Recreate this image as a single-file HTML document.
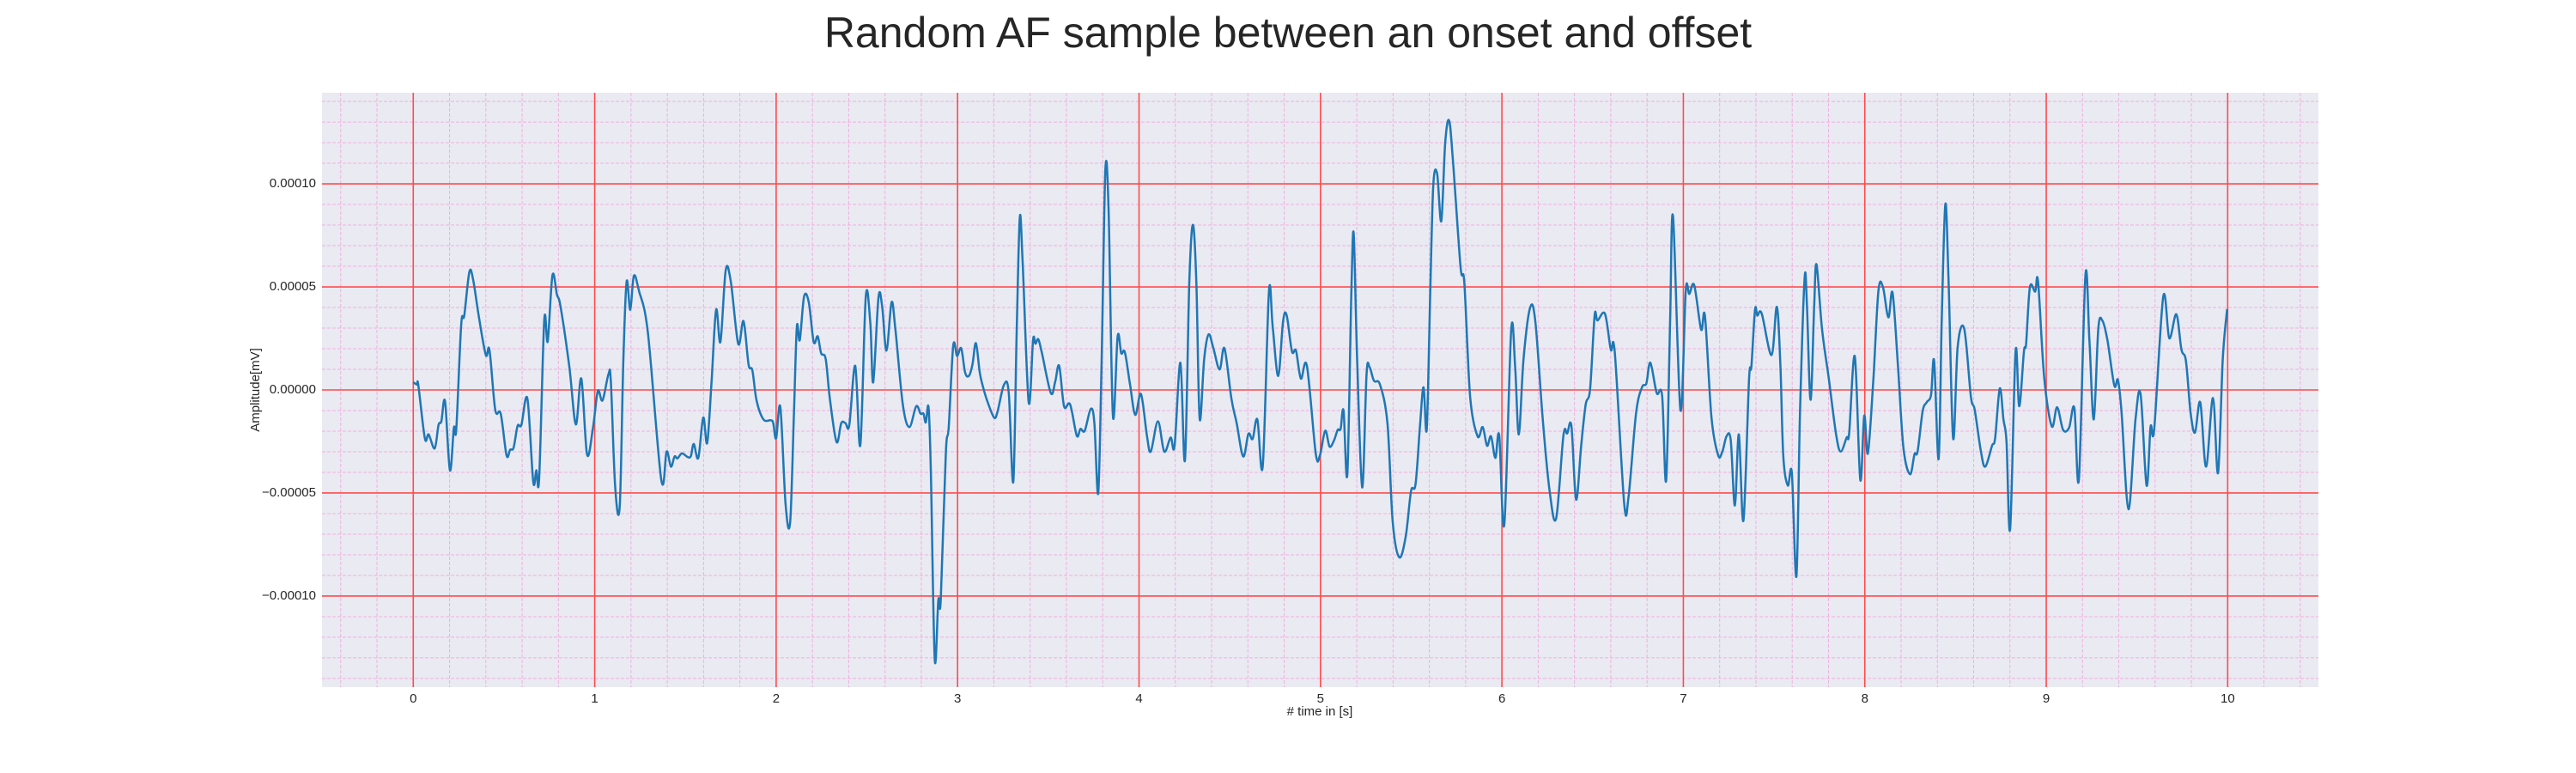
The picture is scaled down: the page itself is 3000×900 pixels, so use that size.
<!DOCTYPE html>
<html><head><meta charset="utf-8"><style>
html,body{margin:0;padding:0;background:#fff;}
svg{display:block;font-family:"Liberation Sans",sans-serif;}
</style></head><body>
<svg id="chart" width="3000" height="900" xmlns="http://www.w3.org/2000/svg">
<text x="1500" y="42" text-anchor="middle" dominant-baseline="middle" font-size="50" fill="#262626">Random AF sample between an onset and offset</text>
<rect x="375" y="108" width="2325" height="692" fill="#eaeaf2"/>
<g id="grid"></g>
<g id="ticks"></g>
<g id="series"></g>
<text x="1537" y="829" text-anchor="middle" dominant-baseline="middle" font-size="15" fill="#262626"># time in [s]</text>
<text transform="translate(298,454) rotate(-90)" text-anchor="middle" dominant-baseline="middle" font-size="15" fill="#262626">Amplitude[mV]</text>
</svg>
<script>
const times = [0,0.02,0.028,0.064,0.085,0.118,0.139,0.155,0.175,0.202,0.224,0.237,0.264,0.281,0.309,0.33,0.362,0.4,0.42,0.452,0.482,0.514,0.534,0.553,0.575,0.596,0.629,0.661,0.678,0.694,0.722,0.741,0.767,0.792,0.811,0.86,0.896,0.926,0.958,0.991,1.017,1.043,1.076,1.089,1.113,1.138,1.158,1.176,1.196,1.216,1.244,1.293,1.367,1.396,1.42,1.44,1.456,1.481,1.513,1.53,1.546,1.571,1.598,1.62,1.644,1.669,1.693,1.722,1.75,1.791,1.82,1.848,1.869,1.892,1.93,1.97,1.984,2.0,2.023,2.052,2.077,2.098,2.114,2.13,2.154,2.18,2.207,2.229,2.248,2.273,2.297,2.333,2.359,2.382,2.403,2.436,2.464,2.494,2.519,2.535,2.564,2.584,2.608,2.636,2.657,2.698,2.734,2.772,2.796,2.812,2.825,2.84,2.853,2.874,2.894,2.907,2.935,2.951,2.976,2.997,3.02,3.041,3.062,3.082,3.101,3.122,3.139,3.166,3.201,3.22,3.256,3.282,3.307,3.326,3.343,3.359,3.392,3.416,3.429,3.445,3.465,3.514,3.538,3.56,3.587,3.62,3.657,3.677,3.701,3.734,3.754,3.775,3.794,3.814,3.832,3.856,3.882,3.902,3.922,3.951,3.979,4.011,4.044,4.065,4.104,4.139,4.174,4.196,4.228,4.253,4.277,4.297,4.316,4.334,4.359,4.383,4.408,4.444,4.471,4.509,4.538,4.574,4.603,4.626,4.652,4.682,4.716,4.737,4.767,4.794,4.814,4.843,4.865,4.892,4.925,4.974,4.997,5.026,5.05,5.075,5.095,5.111,5.127,5.148,5.17,5.183,5.202,5.23,5.254,5.271,5.295,5.328,5.369,5.398,5.434,5.47,5.499,5.524,5.548,5.568,5.586,5.605,5.622,5.643,5.666,5.687,5.708,5.728,5.772,5.793,5.825,5.866,5.894,5.918,5.94,5.964,5.985,6.013,6.051,6.073,6.093,6.119,6.155,6.184,6.225,6.263,6.299,6.339,6.36,6.383,6.409,6.437,6.462,6.486,6.511,6.527,6.568,6.6,6.622,6.674,6.698,6.739,6.772,6.796,6.818,6.853,6.883,6.905,6.927,6.943,6.984,7.013,7.033,7.06,7.098,7.119,7.155,7.192,7.215,7.238,7.261,7.284,7.306,7.331,7.362,7.375,7.395,7.408,7.432,7.486,7.515,7.535,7.551,7.576,7.598,7.623,7.643,7.668,7.681,7.701,7.721,7.734,7.764,7.801,7.842,7.867,7.9,7.914,7.945,7.975,7.997,8.017,8.047,8.075,8.1,8.13,8.153,8.183,8.213,8.249,8.274,8.291,8.319,8.341,8.365,8.382,8.407,8.424,8.444,8.462,8.487,8.512,8.548,8.585,8.606,8.64,8.664,8.701,8.718,8.744,8.764,8.781,8.801,8.831,8.851,8.877,8.889,8.91,8.939,8.955,8.988,9.03,9.06,9.093,9.126,9.155,9.18,9.216,9.238,9.262,9.287,9.309,9.337,9.375,9.395,9.415,9.453,9.492,9.52,9.553,9.575,9.595,9.645,9.678,9.717,9.745,9.77,9.795,9.82,9.849,9.881,9.919,9.947,9.973,9.997];
const amplitudesE5 = [0.37,0.26,0.22,-2.35,-2.16,-2.84,-1.7,-1.52,-0.55,-3.9,-1.83,-1.89,3.15,3.61,5.72,5.35,3.52,1.69,1.94,-0.97,-1.15,-3.17,-2.9,-2.8,-1.74,-1.7,-0.42,-4.45,-3.9,-4.27,3.37,2.36,5.57,4.62,4.07,1.14,-1.67,0.55,-3.13,-1.8,-0.05,-0.51,0.77,0.4,-4.73,-5.61,1.5,5.26,3.89,5.54,4.8,2.79,-4.36,-2.99,-3.72,-3.23,-3.32,-3.08,-3.26,-3.21,-2.62,-3.3,-1.34,-2.57,0.4,3.89,2.33,5.81,5.26,2.24,3.34,1.23,0.95,-0.51,-1.43,-1.47,-1.61,-2.35,-0.84,-5.55,-6.42,-1.15,3.06,2.42,4.53,4.25,2.33,2.6,1.78,1.5,-0.51,-2.53,-1.61,-1.61,-1.7,1.17,-2.68,4.53,3.24,0.37,4.49,4.07,1.91,4.25,2.97,-0.7,-1.8,-0.79,-1.15,-1.15,-1.58,-0.84,-4.0,-13.07,-10.19,-10.19,-3.08,-1.8,2.14,1.65,2.02,0.86,0.68,1.23,2.27,0.86,0.18,-0.6,-1.34,-1.06,0.26,-0.15,-4.45,2.97,8.38,6.09,-0.6,2.42,2.24,2.46,1.78,-0.15,0.4,1.17,-0.79,-0.7,-2.22,-1.89,-1.98,-0.92,-1.61,-5.0,1.5,10.58,8.84,-1.25,2.6,1.78,1.83,0.22,-1.21,-0.2,-2.25,-2.99,-1.52,-2.99,-2.31,-2.71,1.32,-3.41,5.17,8.01,5.17,-1.39,1.5,2.69,2.09,0.99,2.02,-0.42,-1.61,-3.23,-2.13,-2.38,-1.43,-3.68,4.77,3.06,0.68,3.34,3.61,1.87,1.91,0.55,1.17,-3.08,-3.17,-1.98,-2.75,-2.44,-1.94,-1.89,-1.01,-4.09,4.62,7.59,1.5,-4.73,0.77,1.1,0.44,0.26,-1.61,-6.38,-8.12,-7.11,-4.91,-4.58,-1.8,0.13,-1.89,4.8,9.94,10.49,8.19,11.95,13.09,11.4,5.99,5.17,-0.33,-2.25,-1.8,-2.71,-2.25,-3.3,-2.2,-6.53,2.88,1.14,-2.16,1.5,3.98,3.34,-1.43,-4.91,-6.23,-2.2,-2.11,-1.76,-5.32,-2.68,-0.7,0.04,3.61,3.37,3.7,1.96,1.81,-5.5,-5.19,-1.15,0.13,0.31,1.32,-0.15,-0.27,-4.4,3.34,8.43,-0.97,4.8,4.66,5.08,2.93,3.57,-1.34,-3.17,-2.99,-2.25,-2.44,-5.61,-2.16,-6.34,0.49,1.14,3.89,3.61,3.7,1.69,4.03,1.14,-3.26,-4.64,-4.03,-9.04,-1.06,5.39,4.16,-0.48,4.07,6.09,2.97,0.59,-2.16,-2.99,-2.31,-2.07,1.63,-4.36,-1.25,-3.08,0.49,4.8,4.99,3.52,4.71,1.14,-2.8,-4.09,-3.12,-2.99,-1.03,-0.6,-0.24,1.41,-3.35,3.34,9.02,5.17,-2.35,2.09,2.97,-0.33,-0.97,-2.99,-3.72,-2.71,-2.35,0.07,-1.43,-2.53,-6.75,1.87,-0.79,1.87,2.24,4.99,4.77,5.26,0.68,-1.76,-0.84,-1.94,-1.83,-0.88,-4.33,5.57,2.42,-1.43,2.97,3.37,2.42,0.22,0.49,-1.06,-5.79,-1.43,-0.2,-4.64,-1.8,-1.89,4.53,2.51,3.67,1.96,1.41,-1.06,-2.07,-0.6,-3.72,-0.39,-4.03,1.5,3.92];
const xTickLabels = ["0","1","2","3","4","5","6","7","8","9","10"];
const yTickValues = [-0.0001,-0.00005,0,0.00005,0.0001];
const yTickLabels = ["\u22120.00010","\u22120.00005","0.00000","0.00005","0.00010"];

const NS="http://www.w3.org/2000/svg";
const L=375,R=2700,T=108,B=800, X0=-0.503, X1=10.5, Y0=-0.0001442, Y1=0.0001442;
function xs(t){return L+(t-X0)/(X1-X0)*(R-L);}
function ys(v){return B-(v-Y0)/(Y1-Y0)*(B-T);}
function mk(tag,attrs,parent){const e=document.createElementNS(NS,tag);for(const k in attrs)e.setAttribute(k,attrs[k]);parent.appendChild(e);return e;}
const grid=document.getElementById('grid'), ticks=document.getElementById('ticks'), series=document.getElementById('series');
for(let i=-2;i<=52;i++){const t=i*0.2; if(i%5===0)continue; const x=xs(t); if(x<L||x>R)continue;
 const ln=mk('line',{x1:x,x2:x,y1:T,y2:B,stroke:'#f2a6dc','stroke-width':1,'stroke-dasharray':'4,2','stroke-opacity':0.85},grid);
 
 }
for(let i=-14;i<=14;i++){ if(i%5===0)continue; const y=ys(i*1e-5);
 const ln=mk('line',{x1:L,x2:R,y1:y,y2:y,stroke:'#f2a6dc','stroke-width':1,'stroke-dasharray':'4,2','stroke-opacity':0.85},grid);
 
 }
xTickLabels.forEach((lab,i)=>{const x=xs(i);
 const ln=mk('line',{x1:x,x2:x,y1:T,y2:B,stroke:'#ff4b4b','stroke-width':1.6},grid);
 
 
 const tx=mk('text',{x:x,y:814,'text-anchor':'middle','dominant-baseline':'middle','font-size':15,fill:'#262626'},ticks);
 tx.textContent=lab;
 
 });
yTickValues.forEach((v,i)=>{const y=ys(v);
 const ln=mk('line',{x1:L,x2:R,y1:y,y2:y,stroke:'#ff4b4b','stroke-width':1.6},grid);
 
 
 const tx=mk('text',{x:368,y:y,'text-anchor':'end','dominant-baseline':'middle','font-size':15,fill:'#262626'},ticks);
 tx.textContent=yTickLabels[i];
 
 });
const P=times.map((t,i)=>[xs(t),ys(amplitudesE5[i]*1e-5)]);
let d='M'+P[0][0].toFixed(1)+','+P[0][1].toFixed(1);
for(let i=0;i<P.length-1;i++){
 const p0=P[Math.max(i-1,0)],p1=P[i],p2=P[i+1],p3=P[Math.min(i+2,P.length-1)];
 const c1x=p1[0]+(p2[0]-p0[0])/6,c1y=p1[1]+(p2[1]-p0[1])/6;
 const c2x=p2[0]-(p3[0]-p1[0])/6,c2y=p2[1]-(p3[1]-p1[1])/6;
 d+=' C'+c1x.toFixed(1)+','+c1y.toFixed(1)+' '+c2x.toFixed(1)+','+c2y.toFixed(1)+' '+p2[0].toFixed(1)+','+p2[1].toFixed(1);
}
const pl=mk('path',{d:d,fill:'none',stroke:'#1f77b4','stroke-width':2.5,'stroke-linejoin':'round'},series);


</script>
</body></html>
